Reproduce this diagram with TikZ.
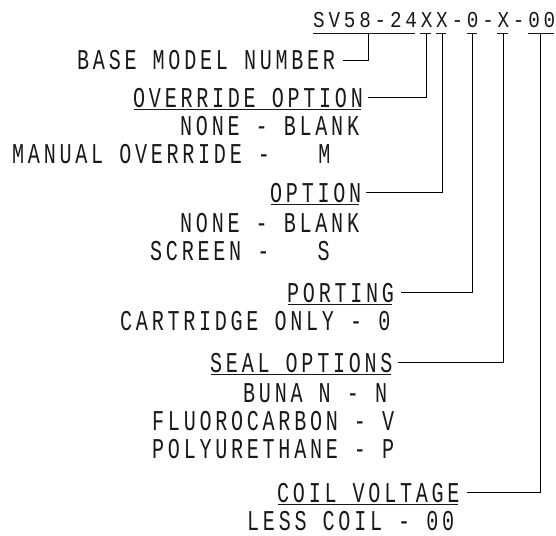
\documentclass[tikz,border=0pt]{standalone}
\usepackage{fontspec}
\newfontfamily\cadfont[FakeStretch=0.7,LetterSpace=13,WordSpace=1.02]{Liberation Mono}
\newfontfamily\codefont[FakeStretch=0.85,LetterSpace=16.7,WordSpace=1.05]{Liberation Mono}
\begin{document}
\begin{tikzpicture}[x=1pt,y=-1pt,
  lbl/.style={inner sep=0pt, anchor=base west, font=\cadfont\fontsize{28.7}{30}\selectfont, text=black!90},
  codetxt/.style={inner sep=0pt, anchor=base west, font=\codefont\fontsize{22.7}{24}\selectfont, text=black!90},
  ul/.style={line width=0.8pt, black!90},
  lead/.style={line width=0.9pt}]
\useasboundingbox (0,0) rectangle (556,535);
\newcommand\ulnode[1]{\draw[ul] ([xshift=0.5pt,yshift=-2.6pt]#1.base west) -- ([xshift=-2pt,yshift=-2.6pt]#1.base east);}

% model code
\node[codetxt] (code) at (313,28) {SV58-24XX-0-X-00};
\foreach \a/\b in {0/6,7/7,8/8,10/10,12/12,14/15}
  \draw[ul] ([xshift={\a*15.4-0.5},yshift=-5pt]code.base west) -- ([xshift={(\b+1)*15.4-5.5},yshift=-5pt]code.base west);
\coordinate (t1) at (368,33);
\coordinate (t2) at (426.5,33);
\coordinate (t3) at (442,33);
\coordinate (t4) at (472.5,33);
\coordinate (t5) at (503,33);
\coordinate (t6) at (540.5,33);

% labels
\node[lbl] (base) at (77,70) {BASE MODEL NUMBER};
\node[lbl] (ovr) at (133,107) {OVERRIDE OPTION};
\node[lbl] (ovr1) at (180,135) {NONE - BLANK};
\node[lbl] (ovr2) at (12,163) {MANUAL OVERRIDE -~~~M};
\node[lbl] (opt) at (270,202) {OPTION};
\node[lbl] (opt1) at (180,232) {NONE - BLANK};
\node[lbl] (opt2) at (150,260) {SCREEN -~~~S};
\node[lbl] (port) at (287,302) {PORTING};
\node[lbl] (port1) at (120,330) {CARTRIDGE ONLY - 0};
\node[lbl] (seal) at (210,372) {SEAL OPTIONS};
\node[lbl] (seal1) at (243,402) {BUNA N - N};
\node[lbl] (seal2) at (152,430) {FLUOROCARBON - V};
\node[lbl] (seal3) at (152,458) {POLYURETHANE - P};
\node[lbl] (coil) at (277,502) {COIL VOLTAGE};
\node[lbl] (coil1) at (247,530) {LESS COIL - 00};

\ulnode{ovr}
\ulnode{opt}
\ulnode{port}
\ulnode{seal}
\ulnode{coil}

% leaders
\draw[lead] ([xshift=8pt]base.east) -| (t1);
\draw[lead] ([xshift=5pt]ovr.east) -| (t2);
\draw[lead] ([xshift=5pt]opt.east) -| (t3);
\draw[lead] ([xshift=7pt]port.east) -| (t4);
\draw[lead] ([xshift=5pt]seal.east) -| (t5);
\draw[lead] ([xshift=7pt]coil.east) -| (t6);
\end{tikzpicture}
\end{document}
